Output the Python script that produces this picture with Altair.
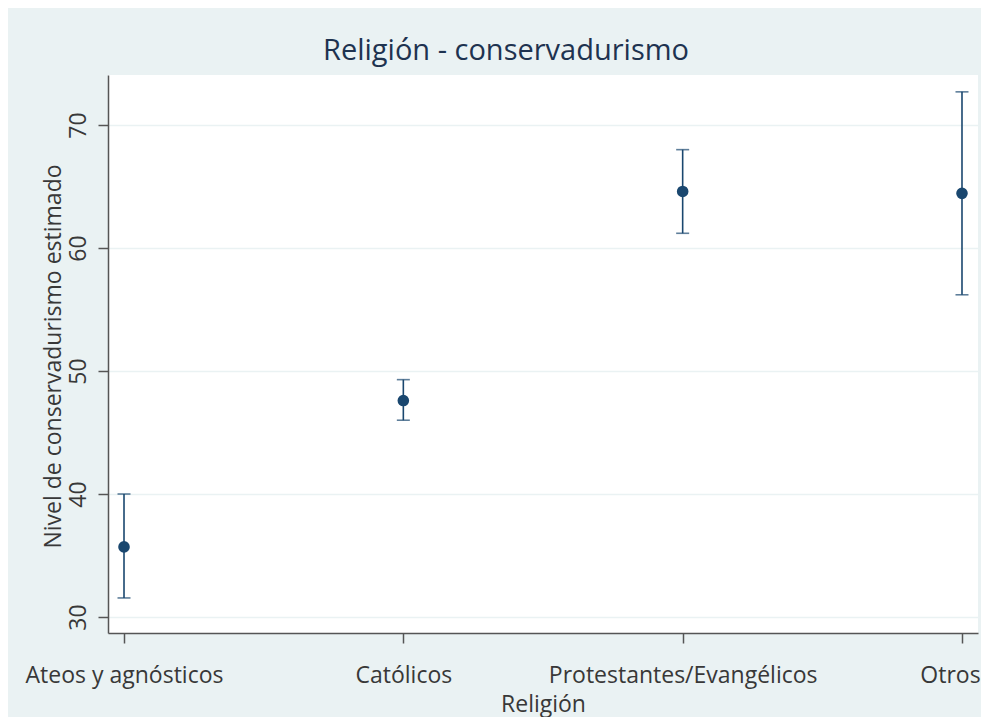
import altair as alt
import pandas as pd

categories = ["Ateos y agnósticos", "Católicos", "Protestantes/Evangélicos", "Otros"]
estimate = [35.7, 47.6, 64.6, 64.45]
ci_low = [31.55, 46.0, 61.2, 56.2]
ci_high = [40.0, 49.3, 68.0, 72.7]
y_ticks = [30, 40, 50, 60, 70]

df = pd.DataFrame({"religion": categories, "est": estimate, "lo": ci_low, "hi": ci_high})

NAVY = "#1a476f"
BG = "#eaf2f3"
FONT = "Open Sans"
TXT = "#383838"

x_enc = alt.X(
    "religion:N",
    sort=categories,
    scale=alt.Scale(type="point", padding=0.0573),
    axis=alt.Axis(
        title="Religión",
        grid=False,
        labelAngle=0,
        labelBaseline="alphabetic",
        labelPadding=39,
        labelFontSize=23,
        labelLimit=0,
        labelOffset=alt.ExprRef(expr="datum.value === 'Otros' ? -12 : 0"),
        labelColor=TXT,
        titleFontSize=23,
        titleColor=TXT,
        titleFontWeight="normal",
        titleBaseline="alphabetic",
        titleY=78,
        tickSize=10,
        tickColor="#555555",
        tickWidth=1.5,
        domainColor="#555555",
        domainWidth=1.5,
    ),
)

y_scale = alt.Scale(domain=[28.7, 74.07], nice=False, zero=False)

base = alt.Chart(df)

rules = base.mark_rule(color=NAVY, strokeWidth=1.6).encode(
    x=x_enc,
    y=alt.Y(
        "lo:Q",
        scale=y_scale,
        axis=alt.Axis(
            title="Nivel de conservadurismo estimado",
            values=y_ticks,
            grid=True,
            gridColor=BG,
            gridWidth=1.5,
            labelAngle=270,
            labelAlign="center",
            labelBaseline="alphabetic",
            labelPadding=13,
            labelFontSize=23,
            labelColor=TXT,
            titleFontSize=23,
            titleColor=TXT,
            titleFontWeight="normal",
            titleAngle=270,
            titleAlign="center",
            titleBaseline="middle",
            titleX=-55,
            titleY=281,
            tickSize=10,
            tickColor="#555555",
            tickWidth=1.5,
            domainColor="#555555",
            domainWidth=1.5,
        ),
    ),
    y2="hi:Q",
)

caps_lo = base.mark_tick(color=NAVY, size=13, thickness=1.6).encode(
    x=alt.X("religion:N", sort=categories), y=alt.Y("lo:Q", scale=y_scale)
)
caps_hi = base.mark_tick(color=NAVY, size=13, thickness=1.6).encode(
    x=alt.X("religion:N", sort=categories), y=alt.Y("hi:Q", scale=y_scale)
)
points = base.mark_circle(color=NAVY, size=135, opacity=1).encode(
    x=alt.X("religion:N", sort=categories), y=alt.Y("est:Q", scale=y_scale)
)

chart = (
    alt.layer(rules, caps_lo, caps_hi, points)
    .properties(
        width=870,
        height=558,
        autosize=alt.AutoSizeParams(type="none"),
        padding={"left": 100, "top": 67, "right": 3, "bottom": 84},
        background=BG,
        title=alt.TitleParams(
            "Religión - conservadurismo",
            fontSize=29,
            font=FONT,
            fontWeight="normal",
            color="#1e3350",
            anchor="middle",
            baseline="alphabetic",
            offset=13,
            dx=-37,
            dy=27,
        ),
    )
    .configure(font=FONT)
    .configure_view(fill="white", stroke=None)
)

chart.save("out.html", embed_options={"renderer": "svg", "actions": False})
